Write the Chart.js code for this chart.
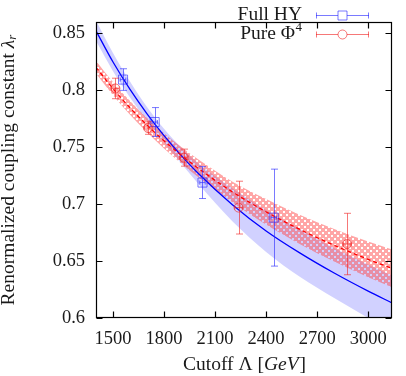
<!DOCTYPE html>
<html><head><meta charset="utf-8">
<script src="https://cdn.jsdelivr.net/npm/chart.js@4/dist/chart.umd.min.js"></script>
<style>html,body{margin:0;padding:0;background:#fff}#wrap{width:406px;height:376px;position:relative}canvas{display:block}</style>
</head><body><div id="wrap"><canvas id="c" width="406" height="376" style="width:406px;height:376px"></canvas></div>
<script>
// ---- data ----
const fitX      = [1400, 1500, 1600, 1700, 1800, 1900, 2000, 2200, 2400, 2600, 2800, 3000, 3140];
const blueFit   = [0.8523, 0.8249, 0.8008, 0.7794, 0.7602, 0.7429, 0.7272, 0.6998, 0.6765, 0.6570, 0.6395, 0.6236, 0.6133];
const blueUpper = [0.8613, 0.8329, 0.8078, 0.7854, 0.7662, 0.7499, 0.7362, 0.7143, 0.6950, 0.6780, 0.6615, 0.6471, 0.6373];
const blueLower = [0.8433, 0.8169, 0.7938, 0.7734, 0.7542, 0.7359, 0.7182, 0.6853, 0.6580, 0.6360, 0.6175, 0.6001, 0.5893];
const redFit    = [0.8203, 0.8015, 0.7847, 0.7695, 0.7557, 0.7432, 0.7316, 0.7110, 0.6933, 0.6777, 0.6639, 0.6515, 0.6436];
const redUpper  = [0.8258, 0.8072, 0.7907, 0.7758, 0.7624, 0.7504, 0.7394, 0.7200, 0.7045, 0.6905, 0.6782, 0.6672, 0.6601];
const redLower  = [0.8148, 0.7958, 0.7787, 0.7632, 0.7490, 0.7360, 0.7238, 0.7020, 0.6821, 0.6649, 0.6496, 0.6358, 0.6271];

const blueX    = [1559, 1745, 2026, 2445];
const blueY    = [0.8095, 0.7722, 0.7190, 0.6882];
const blueYErr = [0.0095, 0.0127, 0.0140, 0.0426];
const blueXErr = [16, 16, 16, 16];

const redX    = [1514, 1706, 1917, 2238, 2876];
const redY    = [0.8017, 0.7669, 0.7409, 0.6970, 0.6650];
const redYErr = [0.0090, 0.0055, 0.0075, 0.0232, 0.0270];
const redXErr = [22, 22, 22, 22, 22];

const xTicks = [1500, 1800, 2100, 2400, 2700, 3000];
const yTicks = [0.6, 0.65, 0.7, 0.75, 0.8, 0.85];
const yTickLabels = ['0.6', '0.65', '0.7', '0.75', '0.8', '0.85'];
const seriesNames = ['Full HY', 'Pure Φ'];

// ---- styling ----
const FONT = '"Liberation Serif", "DejaVu Serif", serif';
const BLUE_PT = 'rgba(40,40,255,0.62)';
const RED_PT = 'rgba(240,30,30,0.6)';
const TXT = '#1a1a1a';

function makeHatch() {
  const t = document.createElement('canvas');
  t.width = 6; t.height = 6;
  const g = t.getContext('2d');
  g.fillStyle = 'rgba(255,70,70,0.48)';
  g.fillRect(0, 0, 6, 6);
  g.clearRect(1, 1, 2, 2);
  g.clearRect(4, 4, 2, 2);
  return document.createElement('canvas').getContext('2d').createPattern(t, 'repeat');
}

const pts = (xs, ys) => xs.map((x, i) => ({ x: x, y: ys[i] }));

const errPlugin = {
  id: 'errbars',
  beforeDatasetDraw(chart, args) {
    const ds = chart.data.datasets[args.index];
    if (!ds.yErr) return;
    const xs = chart.scales.x, ys = chart.scales.y, c = chart.ctx;
    c.save();
    c.strokeStyle = ds.errColor;
    c.lineWidth = 1;
    ds.data.forEach((p, i) => {
      const px = Math.round(xs.getPixelForValue(p.x)) + 0.5;
      const py = ys.getPixelForValue(p.y);
      const t = ys.getPixelForValue(p.y + ds.yErr[i]);
      const b = ys.getPixelForValue(p.y - ds.yErr[i]);
      const l = xs.getPixelForValue(p.x - ds.xErr[i]);
      const r = xs.getPixelForValue(p.x + ds.xErr[i]);
      c.beginPath();
      c.moveTo(px, t); c.lineTo(px, b);
      c.moveTo(px - 3.5, t); c.lineTo(px + 3.5, t);
      c.moveTo(px - 3.5, b); c.lineTo(px + 3.5, b);
      c.moveTo(l, py); c.lineTo(r, py);
      c.moveTo(l, py - 2); c.lineTo(l, py + 2);
      c.moveTo(r, py - 2); c.lineTo(r, py + 2);
      c.stroke();
    });
    c.restore();
  }
};

const framePlugin = {
  id: 'frame',
  afterDatasetsDraw(chart) {
    const c = chart.ctx, a = chart.chartArea, xs = chart.scales.x, ys = chart.scales.y;
    c.save();
    c.strokeStyle = '#000';
    c.lineWidth = 1.2;
    const L = Math.round(a.left) + 0.5, R = Math.round(a.right) - 0.5;
    const T = Math.round(a.top) + 0.5, B = Math.round(a.bottom) - 0.5;
    c.strokeRect(L, T, R - L, B - T);
    c.beginPath();
    xTicks.forEach(v => {
      const x = Math.round(xs.getPixelForValue(v)) + 0.5;
      c.moveTo(x, B); c.lineTo(x, B - 6);
      c.moveTo(x, T); c.lineTo(x, T + 6);
    });
    yTicks.forEach(v => {
      const y = Math.round(ys.getPixelForValue(v)) + 0.5;
      c.moveTo(L, y); c.lineTo(L + 6, y);
      c.moveTo(R, y); c.lineTo(R - 6, y);
    });
    c.stroke();
    c.restore();
  },
  afterDraw(chart) {
    const c = chart.ctx, a = chart.chartArea;
    c.save();
    c.fillStyle = TXT;
    // y title
    c.translate(9, (a.top + a.bottom) / 2);
    c.rotate(-Math.PI / 2);
    c.textBaseline = 'middle';
    c.textAlign = 'left';
    const t1 = 'Renormalized coupling constant ';
    c.font = '19.5px ' + FONT; const w1 = c.measureText(t1).width;
    c.font = 'italic 19.5px ' + FONT; const w2 = c.measureText('λ').width;
    c.font = 'italic 13px ' + FONT; const w3 = c.measureText('r').width;
    let s = -(w1 + w2 + w3) / 2;
    c.font = '19.5px ' + FONT; c.fillText(t1, s, 0); s += w1;
    c.font = 'italic 19.5px ' + FONT; c.fillText('λ', s, 0); s += w2;
    c.font = 'italic 13px ' + FONT; c.fillText('r', s, 4);
    c.restore();

    // x title
    c.save();
    c.fillStyle = TXT;
    c.textBaseline = 'middle';
    const p1 = 'Cutoff Λ [', p2 = 'GeV', p3 = ']';
    c.font = '19.5px ' + FONT; const a1 = c.measureText(p1).width, a3 = c.measureText(p3).width;
    c.font = 'italic 19.5px ' + FONT; const a2 = c.measureText(p2).width;
    let x0 = (a.left + a.right) / 2 - (a1 + a2 + a3) / 2;
    const y0 = 365;
    c.font = '19.5px ' + FONT; c.fillText(p1, x0, y0); x0 += a1;
    c.font = 'italic 19.5px ' + FONT; c.fillText(p2, x0, y0); x0 += a2 + 1;
    c.font = '19.5px ' + FONT; c.fillText(p3, x0, y0);
    c.restore();

    // legend
    c.save();
    c.fillStyle = TXT;
    c.textBaseline = 'middle';
    c.textAlign = 'right';
    const tx = 302, lx0 = 316, lx1 = 369, mx = 342.5;
    const rows = [
      { y: 15, col: BLUE_PT, style: 'rect' },
      { y: 34, col: RED_PT, style: 'circle' }
    ];
    c.font = '19.5px ' + FONT;
    c.fillText(seriesNames[0], tx, rows[0].y);
    c.font = '13px ' + FONT;
    const wsup = c.measureText('4').width;
    c.fillText('4', tx, rows[1].y - 6);
    c.font = '19.5px ' + FONT;
    c.fillText(seriesNames[1], tx - wsup - 0.5, rows[1].y);
    rows.forEach(r => {
      const y = r.y + 0.5;
      c.strokeStyle = r.col; c.lineWidth = 1;
      c.beginPath();
      c.moveTo(lx0, y); c.lineTo(lx1, y);
      c.moveTo(lx0 + 0.5, y - 3); c.lineTo(lx0 + 0.5, y + 3);
      c.moveTo(lx1 - 0.5, y - 3); c.lineTo(lx1 - 0.5, y + 3);
      c.stroke();
      c.beginPath();
      if (r.style === 'rect') c.rect(mx - 4.5, y - 4.5, 9, 9);
      else c.arc(mx, y, 4.5, 0, Math.PI * 2);
      c.fillStyle = '#fff';
      c.fill();
      c.stroke();
    });
    c.restore();
  }
};

const hatch = makeHatch();
const curve = { pointRadius: 0, borderColor: 'transparent', cubicInterpolationMode: 'monotone' };

new Chart(document.getElementById('c'), {
  type: 'line',
  data: {
    datasets: [
      Object.assign({ label: 'HY band', data: pts(fitX, blueUpper), fill: '+1', backgroundColor: 'rgba(0,0,255,0.18)', order: 6 }, curve),
      Object.assign({ label: 'HY band lo', data: pts(fitX, blueLower), fill: false, order: 6 }, curve),
      Object.assign({ label: 'Phi band', data: pts(fitX, redUpper), fill: '+1', backgroundColor: hatch, order: 5 }, curve),
      Object.assign({ label: 'Phi band lo', data: pts(fitX, redLower), fill: false, order: 5 }, curve),
      { label: 'HY fit', data: pts(fitX, blueFit), borderColor: '#0000ff', borderWidth: 1.3, pointRadius: 0, fill: false, order: 4, cubicInterpolationMode: 'monotone' },
      { label: 'Phi fit', data: pts(fitX, redFit), borderColor: '#ff0000', borderWidth: 1.3, borderDash: [4, 3], pointRadius: 0, fill: false, order: 3, cubicInterpolationMode: 'monotone' },
      { label: seriesNames[0], data: pts(blueX, blueY), showLine: false, pointStyle: 'rect', pointRadius: 6.4,
        pointBorderColor: BLUE_PT, pointBackgroundColor: 'rgba(0,0,0,0)', pointBorderWidth: 1, order: 1,
        yErr: blueYErr, xErr: blueXErr, errColor: BLUE_PT },
      { label: seriesNames[1], data: pts(redX, redY), showLine: false, pointStyle: 'circle', pointRadius: 4.5,
        pointBorderColor: RED_PT, pointBackgroundColor: 'rgba(0,0,0,0)', pointBorderWidth: 1, order: 0,
        yErr: redYErr, xErr: redXErr, errColor: RED_PT }
    ]
  },
  options: {
    responsive: false,
    maintainAspectRatio: false,
    animation: false,
    devicePixelRatio: 1,
    layout: { padding: { top: 2, right: 14, left: 0, bottom: 0 } },
    plugins: { legend: { display: false }, tooltip: { enabled: false } },
    scales: {
      x: {
        type: 'linear', min: 1400, max: 3140,
        grid: { display: false, drawTicks: false, tickLength: 0 },
        border: { display: false },
        afterBuildTicks: s => { s.ticks = xTicks.map(v => ({ value: v })); },
        afterFit: s => { s.height = 58; },
        ticks: { color: TXT, font: { family: FONT, size: 18.5 }, padding: 10, maxRotation: 0, autoSkip: false,
                 callback: v => String(v) }
      },
      y: {
        type: 'linear', min: 0.6, max: 0.86,
        grid: { display: false, drawTicks: false, tickLength: 0 },
        border: { display: false },
        afterBuildTicks: s => { s.ticks = yTicks.map(v => ({ value: v })); },
        afterFit: s => { s.width = 96; },
        ticks: { color: TXT, font: { family: FONT, size: 18.5 }, padding: 11, autoSkip: false,
                 callback: v => { const i = yTicks.findIndex(t => Math.abs(t - v) < 1e-9); return i >= 0 ? yTickLabels[i] : ''; } }
      }
    }
  },
  plugins: [errPlugin, framePlugin]
});
</script>
</body></html>
